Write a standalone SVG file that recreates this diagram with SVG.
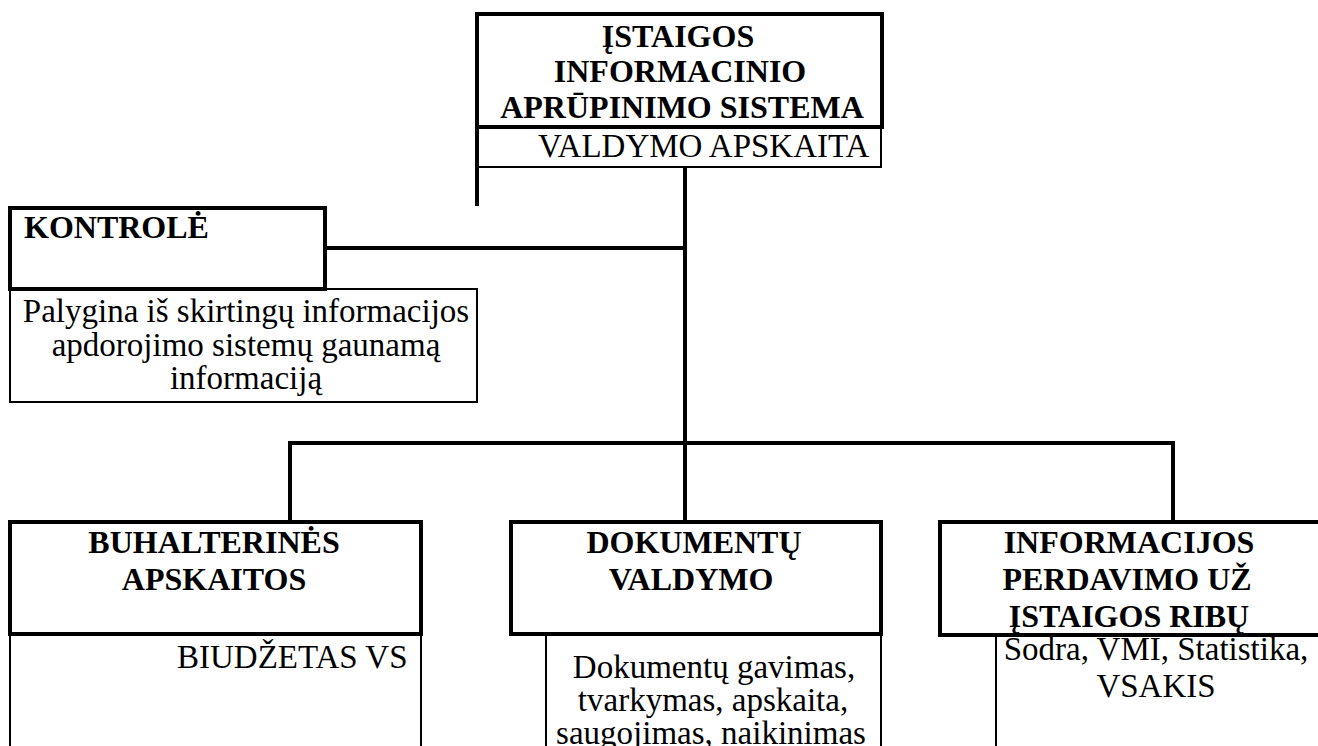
<svg xmlns="http://www.w3.org/2000/svg" width="1318" height="746" viewBox="0 0 1318 746">
<style>
.thick{fill:none;stroke:#000;stroke-width:4}
.thin{fill:none;stroke:#000;stroke-width:2}
.conn{fill:none;stroke:#000;stroke-width:4}
text{font-family:"Liberation Serif","Times New Roman",serif;font-size:33px;fill:#000}
.b{font-weight:bold;font-size:32px}
.c{text-anchor:middle}
</style>
<rect width="1318" height="746" fill="#fff"/>
<g id="connectors">
<line class="conn" x1="685" y1="167" x2="685" y2="522"/>
<line class="conn" x1="325" y1="248" x2="685" y2="248"/>
<polyline class="conn" points="290,522 290,443 1173,443 1173,522"/>
</g>
<g id="node-top">
<rect class="thin" x="477" y="127" width="404" height="40"/>
<line class="thick" x1="477" y1="12" x2="477" y2="206"/>
<polyline class="thick" points="477,14 882,14 882,127"/>
<line class="thick" x1="477" y1="127" x2="884" y2="127"/>
<text class="b c" x="678" y="47">ĮSTAIGOS</text>
<text class="b c" x="680" y="82">INFORMACINIO</text>
<text class="b c" x="682" y="118">APRŪPINIMO SISTEMA</text>
<text x="538" y="157">VALDYMO APSKAITA</text>
</g>
<g id="node-kontrole">
<rect class="thick" x="10" y="208" width="315" height="81"/>
<text class="b" x="24" y="238">KONTROLĖ</text>
</g>
<g id="node-kontrole-desc">
<rect class="thin" x="10" y="289" width="467" height="113"/>
<text class="c" x="246" y="322">Palygina iš skirtingų informacijos</text>
<text class="c" x="246" y="356">apdorojimo sistemų gaunamą</text>
<text class="c" x="246" y="389">informaciją</text>
</g>
<g id="node-buh">
<polyline class="thin" points="10,635 10,750"/>
<polyline class="thin" points="421,635 421,750"/>
<rect class="thick" x="10" y="522" width="411" height="112"/>
<text class="b c" x="214" y="553">BUHALTERINĖS</text>
<text class="b c" x="214" y="590">APSKAITOS</text>
<text x="177" y="668">BIUDŽETAS VS</text>
</g>
<g id="node-dok">
<polyline class="thin" points="546,635 546,750"/>
<polyline class="thin" points="881,635 881,750"/>
<rect class="thick" x="511" y="522" width="370" height="112"/>
<text class="b c" x="694" y="553">DOKUMENTŲ</text>
<text class="b c" x="691" y="590">VALDYMO</text>
<text class="c" x="714" y="678">Dokumentų gavimas,</text>
<text class="c" x="713" y="711">tvarkymas, apskaita,</text>
<text class="c" x="711" y="744">saugojimas, naikinimas</text>
</g>
<g id="node-info">
<polyline class="thin" points="996,635 996,750"/>
<polyline class="thick" points="1320,522 940,522 940,635 1320,635"/>
<text class="b c" x="1129" y="553">INFORMACIJOS</text>
<text class="b c" x="1127" y="590">PERDAVIMO UŽ</text>
<text class="b c" x="1129" y="627">ĮSTAIGOS RIBŲ</text>
<text class="c" x="1156" y="660">Sodra, VMI, Statistika,</text>
<text class="c" x="1156" y="697">VSAKIS</text>
</g>
</svg>
